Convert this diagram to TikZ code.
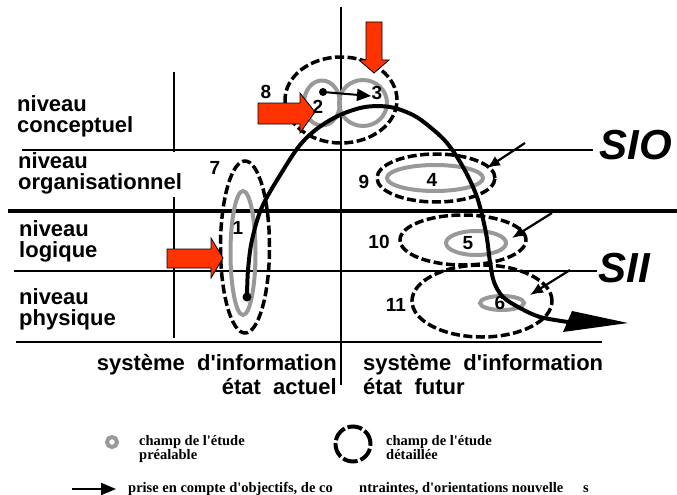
\documentclass[tikz,border=0pt]{standalone}
\usepackage{fontspec}
\setmainfont{Liberation Sans}
\newfontfamily\lserif{Liberation Serif}
\usetikzlibrary{arrows.meta,shapes.geometric}
\definecolor{rouge}{RGB}{255,51,0}
\definecolor{gris}{RGB}{153,153,153}
\newcommand{\apos}{\textquotesingle}
\begin{document}
\begin{tikzpicture}[x=1pt,y=-1pt,
  lbl/.style={font=\bfseries\fontsize{22}{22}\selectfont, anchor=base west, inner sep=0},
  lble/.style={lbl, anchor=base east},
  num/.style={font=\bfseries\fontsize{19}{19}\selectfont, inner sep=0},
  big/.style={font=\bfseries\itshape\fontsize{42}{42}\selectfont, inner sep=0},
  leg/.style={font=\lserif\bfseries\fontsize{14.5}{14.5}\selectfont, anchor=base west, inner sep=0},
  gridthin/.style={line width=1.1pt},
  prealable/.style={draw=gris, line width=4pt, ellipse, inner sep=0},
  detail/.style={draw=black, line width=3.5pt, dash pattern=on 9pt off 3.5pt, ellipse, inner sep=0},
  redarrow/.style={fill=rouge, draw=black, line width=0.8pt},
  ptr/.style={line width=2.2pt, -{Latex[length=13pt,width=11pt]}},
  dotnode/.style={circle, fill=black, inner sep=0},
]
\useasboundingbox (0,0) rectangle (677,495);

% grid lines
\draw[gridthin] (22,150) -- (593,150);
\draw[line width=4pt] (8,211) -- (677,211);
\draw[gridthin] (14,271) -- (597,271);
\draw[gridthin] (16,342) -- (602,342);
\draw[gridthin] (174,72) -- (174,152);
\draw[gridthin] (174,197) -- (174,338);
\draw[line width=2pt] (341,7) -- (341,385);

% row labels
\node[lbl] (n1a) at (17,111) {niveau};
\node[lbl] (n1b) at (17,132) {conceptuel};
\node[lbl] (n2a) at (18,168) {niveau};
\node[lbl] (n2b) at (18,189) {organisationnel};
\node[lbl] (n3a) at (19,236) {niveau};
\node[lbl] (n3b) at (19,257) {logique};
\node[lbl] (n4a) at (19,304) {niveau};
\node[lbl] (n4b) at (19,325) {physique};

% column labels
\node[lble] (c1a) at (337,370) {système\ \ d\apos information};
\node[lble] (c1b) at (337,394) {état\ \ actuel};
\node[lbl] (c2a) at (363,370) {système\ \ d\apos information};
\node[lbl] (c2b) at (363,394) {état\ \ futur};

\node[big] (sio) at (636,145) {SIO};
\node[big] (sii) at (624,268) {SII};

% ellipses: preliminary study
\node[prealable, minimum width=25pt, minimum height=124pt] (g1) at (243,253) {};
\node[prealable, minimum width=36pt, minimum height=45pt] (g2) at (322,103) {};
\node[prealable, minimum width=48pt, minimum height=46pt] (g3) at (363,103) {};
\node[prealable, minimum width=96pt, minimum height=26pt] (g4) at (435,178) {};
\node[prealable, minimum width=60pt, minimum height=24pt] (g5) at (476,243) {};
\node[prealable, minimum width=44pt, minimum height=14pt] (g6) at (502,303) {};

% ellipses: detailed study
\node[detail, minimum width=49pt, minimum height=172pt] (e7) at (245,247) {};
\node[detail, minimum width=112pt, minimum height=86pt] (e8) at (341,100) {};
\node[detail, minimum width=118pt, minimum height=48pt] (e9) at (436,178) {};
\node[detail, minimum width=126pt, minimum height=50pt] (e10) at (463,240) {};
\node[detail, minimum width=140pt, minimum height=72pt] (e11) at (482,301) {};

% main curve
\node[dotnode, minimum size=9pt] (dot1) at (247,297) {};
\coordinate (cend) at (568,322);
\draw[line width=4pt, line cap=round] plot[smooth, tension=0.55] coordinates {(dot1.center) (248,270) (252,240) (262,207) (282,172) (300,145) (318,128) (340,115) (365,107) (390,107) (413,115) (430,127) (447,143) (463,167) (477,197) (486,233) (490,262) (494,282) (503,297) (520,308) (540,317) (cend)};
\coordinate (tipc) at (628,323);
\fill[black] (572,311) -- (tipc) -- (563,332) -- cycle;

% small arrow 2 -> 3
\node[dotnode, minimum size=8pt] (dot2) at (323,92) {};
\coordinate (p3) at (371,96);
\draw[line width=2pt, -{Triangle[length=14pt,width=12pt]}] (dot2.center) -- (p3);

% pointer arrows
\coordinate (t9) at (525,143);  \coordinate (h9) at (487,168);
\coordinate (t10) at (552,213); \coordinate (h10) at (512,238);
\coordinate (t11) at (570,270); \coordinate (h11) at (530,295);
\draw[ptr] (t9) -- (h9);
\draw[ptr] (t10) -- (h10);
\draw[ptr] (t11) -- (h11);

% red arrows
\draw[redarrow] (366,22) -- (382,22) -- (382,60) -- (389,60) -- (374,73) -- (359,60) -- (366,60) -- cycle;
\draw[redarrow] (258,103) -- (300,103) -- (300,93) -- (315,112) -- (300,133) -- (300,124) -- (258,124) -- cycle;
\draw[redarrow] (167,249) -- (211,249) -- (211,238) -- (223,258) -- (211,278) -- (211,268) -- (167,268) -- cycle;

% numbers
\node[num] (l8) at (266,92) {8};
\node[num] (l2) at (318,107) {2};
\node[num] (l3) at (377,93) {3};
\node[num] (l7) at (215,168) {7};
\node[num] (l1) at (238,228) {1};
\node[num] (l9) at (364,182) {9};
\node[num] (l4) at (432,180) {4};
\node[num] (l10) at (379,242) {10};
\node[num] (l5) at (468,243) {5};
\node[num] (l11) at (396,305) {11};
\node[num] (l6) at (500,303) {6};

% legend
\node[draw=gris, line width=4pt, circle, minimum size=10pt, inner sep=0] (legring) at (112,442) {};
\node[leg] (lt1a) at (139,445) {champ de l\apos étude};
\node[leg] (lt1b) at (139,459) {préalable};
\node[draw=black, line width=4pt, dash pattern=on 15pt off 3pt, circle, minimum size=35pt, inner sep=0] (legdash) at (353,444) {};
\node[leg] (lt2a) at (386,445) {champ de l\apos étude};
\node[leg] (lt2b) at (386,459) {détaillée};
\coordinate (la0) at (72,489);
\coordinate (la1) at (116,489);
\draw[line width=2pt, -{Triangle[length=15pt,width=12pt]}] (la0) -- (la1);
\node[leg] (lt3a) at (128,492) {prise en compte d\apos objectifs, de co};
\node[leg] (lt3b) at (359,492) {ntraintes, d\apos orientations nouvelle};
\node[leg] (lt3c) at (583,492) {s};
\end{tikzpicture}
\end{document}
